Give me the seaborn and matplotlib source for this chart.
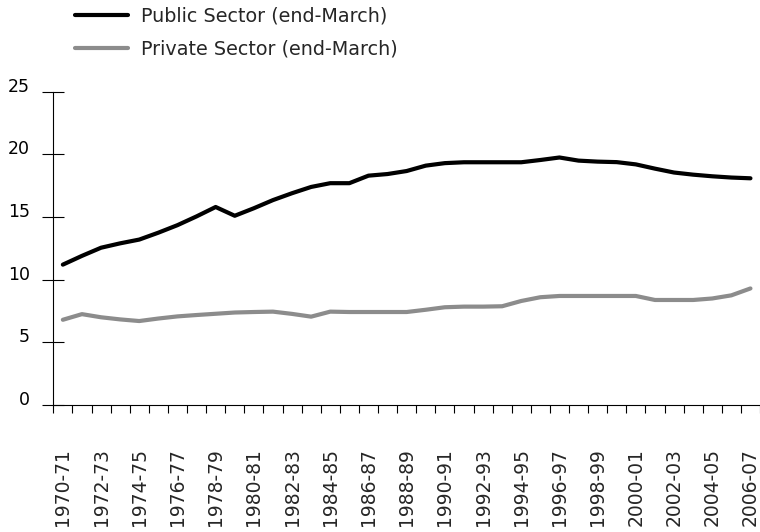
import matplotlib
matplotlib.use("Agg")
import matplotlib.pyplot as plt
import seaborn as sns
import pandas as pd
import numpy as np

categories = ["1970-71", "1971-72", "1972-73", "1973-74", "1974-75", "1975-76",
              "1976-77", "1977-78", "1978-79", "1979-80", "1980-81", "1981-82",
              "1982-83", "1983-84", "1984-85", "1985-86", "1986-87", "1987-88",
              "1988-89", "1989-90", "1990-91", "1991-92", "1992-93", "1993-94",
              "1994-95", "1995-96", "1996-97", "1997-98", "1998-99", "1999-00",
              "2000-01", "2001-02", "2002-03", "2003-04", "2004-05", "2005-06",
              "2006-07"]

public = [11.2, 11.9, 12.55, 12.9, 13.2, 13.75, 14.35, 15.05, 15.8, 15.1,
          15.7, 16.35, 16.9, 17.4, 17.7, 17.7, 18.3, 18.43, 18.67, 19.1,
          19.3, 19.37, 19.37, 19.37, 19.37, 19.55, 19.75, 19.5, 19.42, 19.38,
          19.2, 18.86, 18.55, 18.38, 18.25, 18.15, 18.09]

private = [6.8, 7.25, 7.0, 6.83, 6.7, 6.9, 7.07, 7.18, 7.28, 7.38,
           7.42, 7.45, 7.27, 7.05, 7.45, 7.42, 7.42, 7.42, 7.42, 7.6,
           7.8, 7.85, 7.85, 7.88, 8.3, 8.6, 8.7, 8.7, 8.7, 8.7,
           8.7, 8.38, 8.38, 8.38, 8.5, 8.75, 9.3]

series_names = ["Public Sector (end-March)", "Private Sector (end-March)"]
colors = ["#000000", "#8c8c8c"]

sns.set_style("white")
plt.rcParams["font.family"] = ["DejaVu Sans"]

n = len(categories)
df = pd.DataFrame({
    "pos": list(range(n)) * 2,
    "value": public + private,
    "series": [series_names[0]] * n + [series_names[1]] * n,
})

fig = plt.figure(figsize=(7.6, 5.32), dpi=100)
ax = fig.add_axes([53.3 / 760, 127 / 532, (760 - 53.3) / 760, (405 - 91.7) / 532])

sns.lineplot(data=df, x="pos", y="value", hue="series", hue_order=series_names,
             palette=colors, linewidth=3, ax=ax, legend=True)
for ln in ax.lines:
    ln.set_solid_capstyle("round")
    ln.set_solid_joinstyle("round")

ax.set_xlim(-0.5, n - 0.5)
ax.set_ylim(0, 25)
ax.set_xlabel("")
ax.set_ylabel("")

# y axis
ax.set_yticks([0, 5, 10, 15, 20, 25])
ax.set_yticklabels(["0", "5", "10", "15", "20", "25"], va="baseline")
ax.tick_params(axis="y", direction="inout", length=16.5, width=0.8, pad=8.5,
               labelsize=12.5, colors="black", left=True)

# x axis: boundary ticks (major), labels at category centers (minor)
ax.set_xticks(np.arange(-0.5, n, 1.0))
ax.set_xticklabels([""] * len(np.arange(-0.5, n, 1.0)))
ax.tick_params(axis="x", which="major", direction="out", length=6, width=0.8,
               colors="black", bottom=True)
label_pos = list(range(0, n, 2))
ax.set_xticks(label_pos, minor=True)
ax.set_xticklabels([categories[i] for i in label_pos], minor=True, rotation=90,
                   fontsize=13.5)
ax.tick_params(axis="x", which="minor", length=0, pad=31, bottom=True)

for s in ["top", "right"]:
    ax.spines[s].set_visible(False)
for s in ["left", "bottom"]:
    ax.spines[s].set_color("black")
    ax.spines[s].set_linewidth(0.8)

leg = ax.legend(loc="upper left", bbox_to_anchor=(75 / 760, 1 - 7 / 532),
                bbox_transform=fig.transFigure, frameon=False, fontsize=13.8,
                handlelength=2.75, handletextpad=0.7, labelspacing=0.7,
                borderpad=0, borderaxespad=0)
for h in leg.get_lines():
    h.set_linewidth(3)

fig.savefig("out.png", dpi=100)
